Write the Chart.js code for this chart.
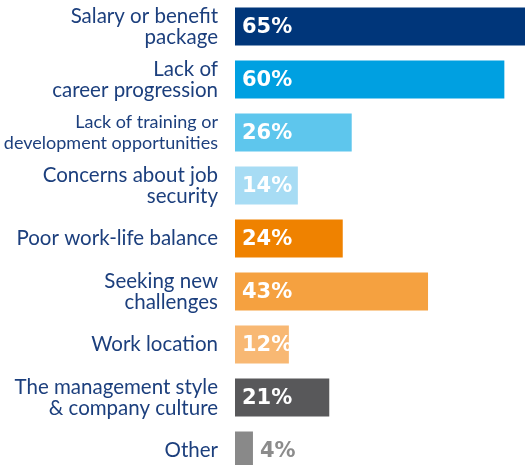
<!DOCTYPE html>
<html>
<head>
<meta charset="utf-8">
<script src="https://cdn.jsdelivr.net/npm/chart.js@4/dist/chart.umd.min.js"></script>
<style>
  html, body { margin: 0; padding: 0; background: #fff; overflow: hidden; }
  #wrap { width: 525px; height: 477px; }
</style>
</head>
<body>
<div id="wrap"><canvas id="chart" width="525" height="477"></canvas></div>
<script>
// Reasons for leaving, share of respondents (%)
const categories = [
    ['Salary or benefit', 'package'],
    ['Lack of', 'career progression'],
    ['Lack of training or', 'development opportunities'],
    ['Concerns about job', 'security'],
    'Poor work-life balance',
    ['Seeking new', 'challenges'],
    'Work location',
    ['The management style', '& company culture'],
    'Other'
];
const values = [65, 60, 26, 14, 24, 43, 12, 21, 4];
const barColors = ['#00367a', '#00a0e1', '#5ec6ed', '#a7dcf4', '#ef8200', '#f5a140', '#f8b873', '#58585a', '#898989'];

const NAVY = '#1c3f7d';

// Prints the value on each bar (outside the bar when it is too short)
const valueLabels = {
    id: 'valueLabels',
    afterDatasetsDraw(chart) {
        const ctx = chart.ctx;
        const meta = chart.getDatasetMeta(0);
        ctx.save();
        ctx.font = 'bold 21px "DejaVu Sans"';
        ctx.textBaseline = 'middle';
        ctx.textAlign = 'left';
        meta.data.forEach((bar, i) => {
            const v = values[i];
            if (v < 8) {
                ctx.fillStyle = '#8c8c8c';
                ctx.fillText(v + '%', bar.x + 7, bar.y + 1);
            } else {
                ctx.fillStyle = '#ffffff';
                ctx.fillText(v + '%', bar.base + 7, bar.y + 1);
            }
        });
        ctx.restore();
    }
};

new Chart(document.getElementById('chart'), {
    type: 'bar',
    data: {
        labels: categories,
        datasets: [{
            data: values,
            backgroundColor: barColors,
            borderWidth: 0,
            categoryPercentage: 1,
            barPercentage: 38 / 53
        }]
    },
    options: {
        indexAxis: 'y',
        responsive: false,
        animation: false,
        layout: { padding: 0 },
        plugins: {
            legend: { display: false },
            tooltip: { enabled: false }
        },
        scales: {
            x: {
                display: false,
                min: 0,
                max: 64.6
            },
            y: {
                // fixed label column, no extra room for overflowing labels
                afterFit(scale) {
                    scale.width = 235;
                    scale.paddingTop = 0;
                    scale.paddingBottom = 0;
                },
                grid: { display: false, drawTicks: false },
                border: { display: false },
                ticks: {
                    padding: 17,
                    color: NAVY,
                    font: (c) => ({
                        family: 'Lato',
                        size: c.index === 2 ? 18 : 20.5,
                        lineHeight: '21px'
                    })
                }
            }
        }
    },
    plugins: [valueLabels]
});
</script>
</body>
</html>
